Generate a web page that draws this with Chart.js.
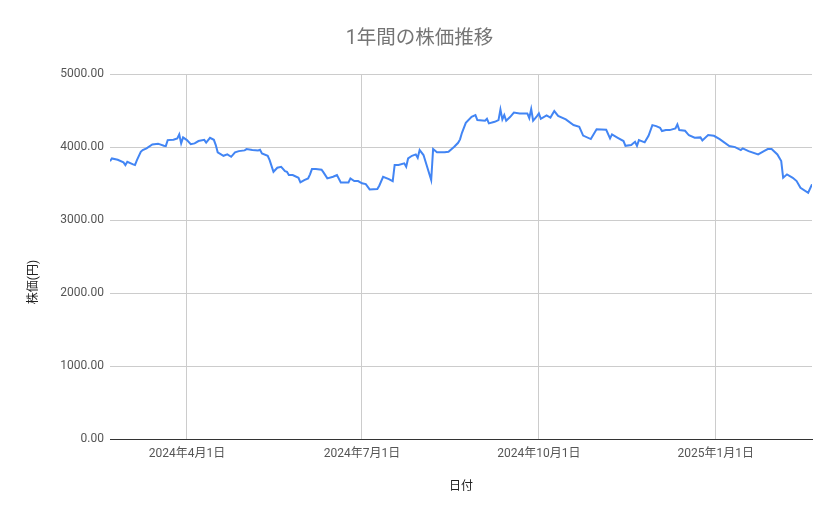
<!DOCTYPE html>
<html>
<head>
<meta charset="utf-8">
<script src="https://cdn.jsdelivr.net/npm/chart.js@4.4.1/dist/chart.umd.min.js"></script>
<style>
    body { margin: 0; background: #fff; }
    #wrap { width: 839px; height: 519px; }
</style>
</head>
<body>
<div id="wrap"><canvas id="myChart" width="839" height="519"></canvas></div>
<script>
let dates = [
    '2024-02-21', '2024-02-22', '2024-02-25', '2024-02-28', '2024-02-29', '2024-03-01', '2024-03-04', '2024-03-05',
    '2024-03-06', '2024-03-08', '2024-03-09', '2024-03-11', '2024-03-14', '2024-03-17', '2024-03-18', '2024-03-20',
    '2024-03-21', '2024-03-22', '2024-03-25', '2024-03-27', '2024-03-28', '2024-03-29', '2024-03-30', '2024-04-01',
    '2024-04-03', '2024-04-05', '2024-04-07', '2024-04-10', '2024-04-11', '2024-04-13', '2024-04-15', '2024-04-16',
    '2024-04-17', '2024-04-20', '2024-04-22', '2024-04-24', '2024-04-26', '2024-04-28', '2024-05-01', '2024-05-02',
    '2024-05-05', '2024-05-08', '2024-05-09', '2024-05-10', '2024-05-13', '2024-05-14', '2024-05-16', '2024-05-18',
    '2024-05-20', '2024-05-22', '2024-05-23', '2024-05-24', '2024-05-26', '2024-05-29', '2024-05-30', '2024-06-01',
    '2024-06-03', '2024-06-04', '2024-06-05', '2024-06-07', '2024-06-10', '2024-06-11', '2024-06-13', '2024-06-16',
    '2024-06-18', '2024-06-20', '2024-06-24', '2024-06-25', '2024-06-27', '2024-06-29', '2024-07-01', '2024-07-03',
    '2024-07-05', '2024-07-09', '2024-07-10', '2024-07-12', '2024-07-15', '2024-07-17', '2024-07-18', '2024-07-20',
    '2024-07-23', '2024-07-24', '2024-07-25', '2024-07-27', '2024-07-29', '2024-07-30', '2024-07-31', '2024-08-02',
    '2024-08-06', '2024-08-07', '2024-08-09', '2024-08-13', '2024-08-15', '2024-08-18', '2024-08-20', '2024-08-21',
    '2024-08-22', '2024-08-24', '2024-08-27', '2024-08-29', '2024-08-30', '2024-09-03', '2024-09-04', '2024-09-05',
    '2024-09-08', '2024-09-10', '2024-09-11', '2024-09-12', '2024-09-13', '2024-09-14', '2024-09-16', '2024-09-18',
    '2024-09-21', '2024-09-25', '2024-09-26', '2024-09-27', '2024-09-28', '2024-09-30', '2024-10-01', '2024-10-02',
    '2024-10-05', '2024-10-07', '2024-10-09', '2024-10-11', '2024-10-15', '2024-10-19', '2024-10-22', '2024-10-24',
    '2024-10-28', '2024-10-31', '2024-11-05', '2024-11-07', '2024-11-08', '2024-11-11', '2024-11-14', '2024-11-15',
    '2024-11-18', '2024-11-20', '2024-11-21', '2024-11-22', '2024-11-25', '2024-11-27', '2024-11-29', '2024-12-01',
    '2024-12-03', '2024-12-04', '2024-12-06', '2024-12-08', '2024-12-11', '2024-12-12', '2024-12-13', '2024-12-16',
    '2024-12-18', '2024-12-21', '2024-12-24', '2024-12-25', '2024-12-28', '2024-12-31', '2025-01-03', '2025-01-08',
    '2025-01-11', '2025-01-14', '2025-01-15', '2025-01-18', '2025-01-23', '2025-01-26', '2025-01-28', '2025-01-30',
    '2025-02-02', '2025-02-04', '2025-02-05', '2025-02-07', '2025-02-10', '2025-02-12', '2025-02-14', '2025-02-18',
    '2025-02-20'
]

let prices = [
    3810, 3848, 3829, 3794, 3757, 3802, 3766, 3757,
    3825, 3939, 3962, 3986, 4040, 4049, 4040, 4021,
    4017, 4099, 4103, 4123, 4177, 4054, 4136, 4099,
    4044, 4054, 4086, 4103, 4065, 4131, 4103, 4031,
    3931, 3884, 3903, 3870, 3931, 3948, 3958, 3976,
    3962, 3958, 3966, 3917, 3884, 3825, 3665, 3720,
    3733, 3674, 3665, 3619, 3619, 3582, 3519, 3551,
    3574, 3629, 3702, 3702, 3692, 3656, 3574, 3596,
    3619, 3519, 3519, 3574, 3537, 3537, 3506, 3496,
    3423, 3428, 3473, 3596, 3565, 3537, 3757, 3757,
    3780, 3733, 3848, 3884, 3903, 3857, 3962, 3894,
    3551, 3976, 3931, 3931, 3939, 4007, 4062, 4109,
    4199, 4336, 4419, 4442, 4373, 4364, 4391, 4328,
    4350, 4373, 4520, 4383, 4442, 4364, 4415, 4476,
    4465, 4465, 4401, 4524, 4364, 4428, 4465, 4391,
    4438, 4408, 4497, 4431, 4383, 4305, 4282, 4161,
    4113, 4247, 4241, 4123, 4177, 4131, 4086, 4021,
    4031, 4076, 4021, 4099, 4068, 4158, 4305, 4291,
    4268, 4223, 4236, 4236, 4260, 4315, 4236, 4227,
    4165, 4131, 4136, 4095, 4168, 4158, 4113, 4017,
    4003, 3962, 3986, 3948, 3903, 3948, 3976, 3976,
    3903, 3811, 3582, 3629, 3582, 3537, 3445, 3377,
    3492
]

let xTickDates = ['2024-04-01', '2024-07-01', '2024-10-01', '2025-01-01']
let yTicks = [0, 1000, 2000, 3000, 4000, 5000]
let yTitle = '株価(円)'

let fontFamily = "Roboto, 'Noto Sans CJK JP', sans-serif"

function toTime(str) {
    let p = str.split('-')
    return Date.UTC(+p[0], +p[1] - 1, +p[2])
}

function jpDate(t) {
    let d = new Date(t)
    return d.getUTCFullYear() + '年' + (d.getUTCMonth() + 1) + '月' + d.getUTCDate() + '日'
}

let points = dates.map(function(item, i) {
    return { x: toTime(item), y: prices[i] }
})

// y title sits a bit below the plot centre in the original, so it is drawn here
let yTitlePlugin = {
    id: 'yTitle',
    afterDraw: function(chart) {
        let ctx = chart.ctx
        ctx.save()
        ctx.translate(34, 282)
        ctx.rotate(-Math.PI / 2)
        ctx.font = '12px ' + fontFamily
        ctx.fillStyle = '#222222'
        ctx.textAlign = 'center'
        ctx.textBaseline = 'middle'
        ctx.fillText(yTitle, 0, 0)
        ctx.restore()
    }
}

let chart = new Chart(document.getElementById('myChart'), {
    type: 'line',
    data: {
        datasets: [{
            label: '株価',
            data: points,
            borderColor: '#4285f4',
            borderWidth: 2,
            pointRadius: 0,
            tension: 0,
            fill: false
        }]
    },
    options: {
        responsive: false,
        animation: false,
        devicePixelRatio: 1,
        layout: { padding: 0 },
        plugins: {
            legend: { display: false },
            tooltip: { enabled: false },
            title: {
                display: true,
                text: '1年間の株価推移',
                color: '#757575',
                font: { family: fontFamily, size: 19.5, weight: 'normal' },
                padding: { top: 27, bottom: 24 }
            }
        },
        scales: {
            x: {
                type: 'linear',
                min: toTime(dates[0]),
                max: toTime(dates[dates.length - 1]),
                afterBuildTicks: function(scale) {
                    scale.ticks = xTickDates.map(function(d) { return { value: toTime(d) } })
                },
                afterFit: function(scale) { scale.height = 80 },
                ticks: {
                    autoSkip: false,
                    maxRotation: 0,
                    padding: 8,
                    color: '#555555',
                    font: { family: fontFamily, size: 12 },
                    callback: function(value) { return jpDate(value) }
                },
                grid: { color: '#cccccc', drawTicks: false },
                border: { display: true, color: '#333333', width: 1 },
                title: {
                    display: true,
                    text: '日付',
                    color: '#222222',
                    font: { family: fontFamily, size: 12 },
                    padding: { top: 0, bottom: 25 }
                }
            },
            y: {
                min: 0,
                max: 5000,
                afterBuildTicks: function(scale) {
                    scale.ticks = yTicks.map(function(v) { return { value: v } })
                },
                afterFit: function(scale) { scale.width = 110 },
                ticks: {
                    padding: 6,
                    color: '#555555',
                    font: { family: fontFamily, size: 12 },
                    callback: function(value) { return value.toFixed(2) }
                },
                grid: {
                    drawTicks: false,
                    color: function(ctx) {
                        return ctx.tick && ctx.tick.value === 0 ? '#333333' : '#cccccc'
                    }
                },
                border: { display: false }
            },
            // empty right-hand axis that only reserves the margin, keeps the title centred on the canvas
            yRight: {
                position: 'right',
                display: true,
                ticks: { display: false },
                grid: { display: false },
                border: { display: false },
                afterFit: function(scale) { scale.width = 27 }
            }
        }
    },
    plugins: [yTitlePlugin]
})
</script>
</body>
</html>
